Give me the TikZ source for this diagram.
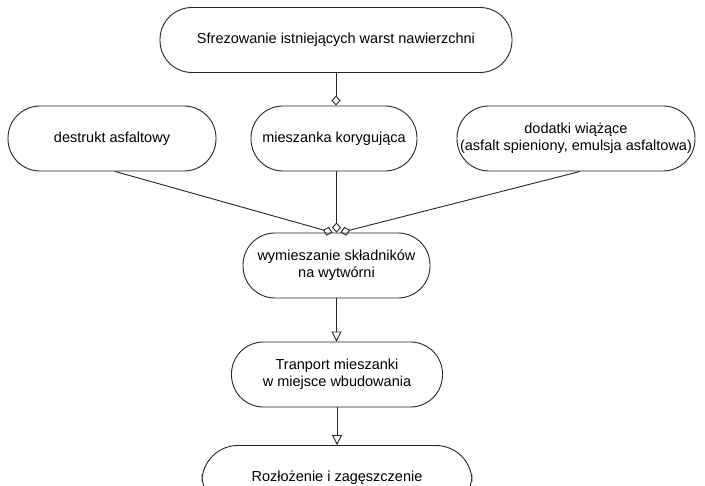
\documentclass[tikz,border=0pt]{standalone}
\usepackage{fontspec}
\setmainfont{Liberation Sans}
\usetikzlibrary{arrows.meta}
\begin{document}
\begin{tikzpicture}[x=1pt,y=-1pt,
  box/.style={draw=black!85, line width=0.9pt, rounded corners=32pt, minimum height=65pt, align=center, font=\fontsize{14.5}{17}\selectfont, inner sep=0pt},
  conn/.style={draw=black!85, line width=0.9pt},
  dia/.style={-{Diamond[open,length=10pt,width=9pt]}},
  tri/.style={-{Triangle[open,length=10pt,width=10pt]}}]
\clip (0,0) rectangle (705,486);
\fill[white] (0,0) rectangle (705,486);
\node[box, minimum width=352pt] (top) at (336,40) {Sfrezowanie istniejących warst nawierzchni};
\node[box, minimum width=208pt] (left) at (112,138.5) {destrukt asfaltowy};
\node[box, minimum width=166pt] (mid) at (334,138.5) {mieszanka korygująca};
\node[box, minimum width=238pt] (right) at (576,138.5) {dodatki wiążące\\(asfalt spieniony, emulsja asfaltowa)};
\node[box, minimum width=187pt] (mix) at (336.5,265.5) {wymieszanie składników\\na wytwórni};
\node[box, minimum width=211pt] (trans) at (337,374.5) {Tranport mieszanki\\w miejsce wbudowania};
\node[box, minimum width=270pt, rounded corners=36pt] (last) at (337,478) {Rozłożenie i zagęszczenie};
\draw[conn, dia] (top.south) -- (top.south |- mid.north);
\draw[conn, dia] ([xshift=3pt]left.south) -- ([xshift=-4pt]mix.north);
\draw[conn, dia] (mid.south -| mix.north) -- (mix.north);
\draw[conn, dia] ([xshift=4pt]right.south) -- ([xshift=4pt]mix.north);
\draw[conn, tri] (mix.south) -- (mix.south |- trans.north);
\draw[conn, tri] (trans.south) -- (last.north);
\end{tikzpicture}
\end{document}
